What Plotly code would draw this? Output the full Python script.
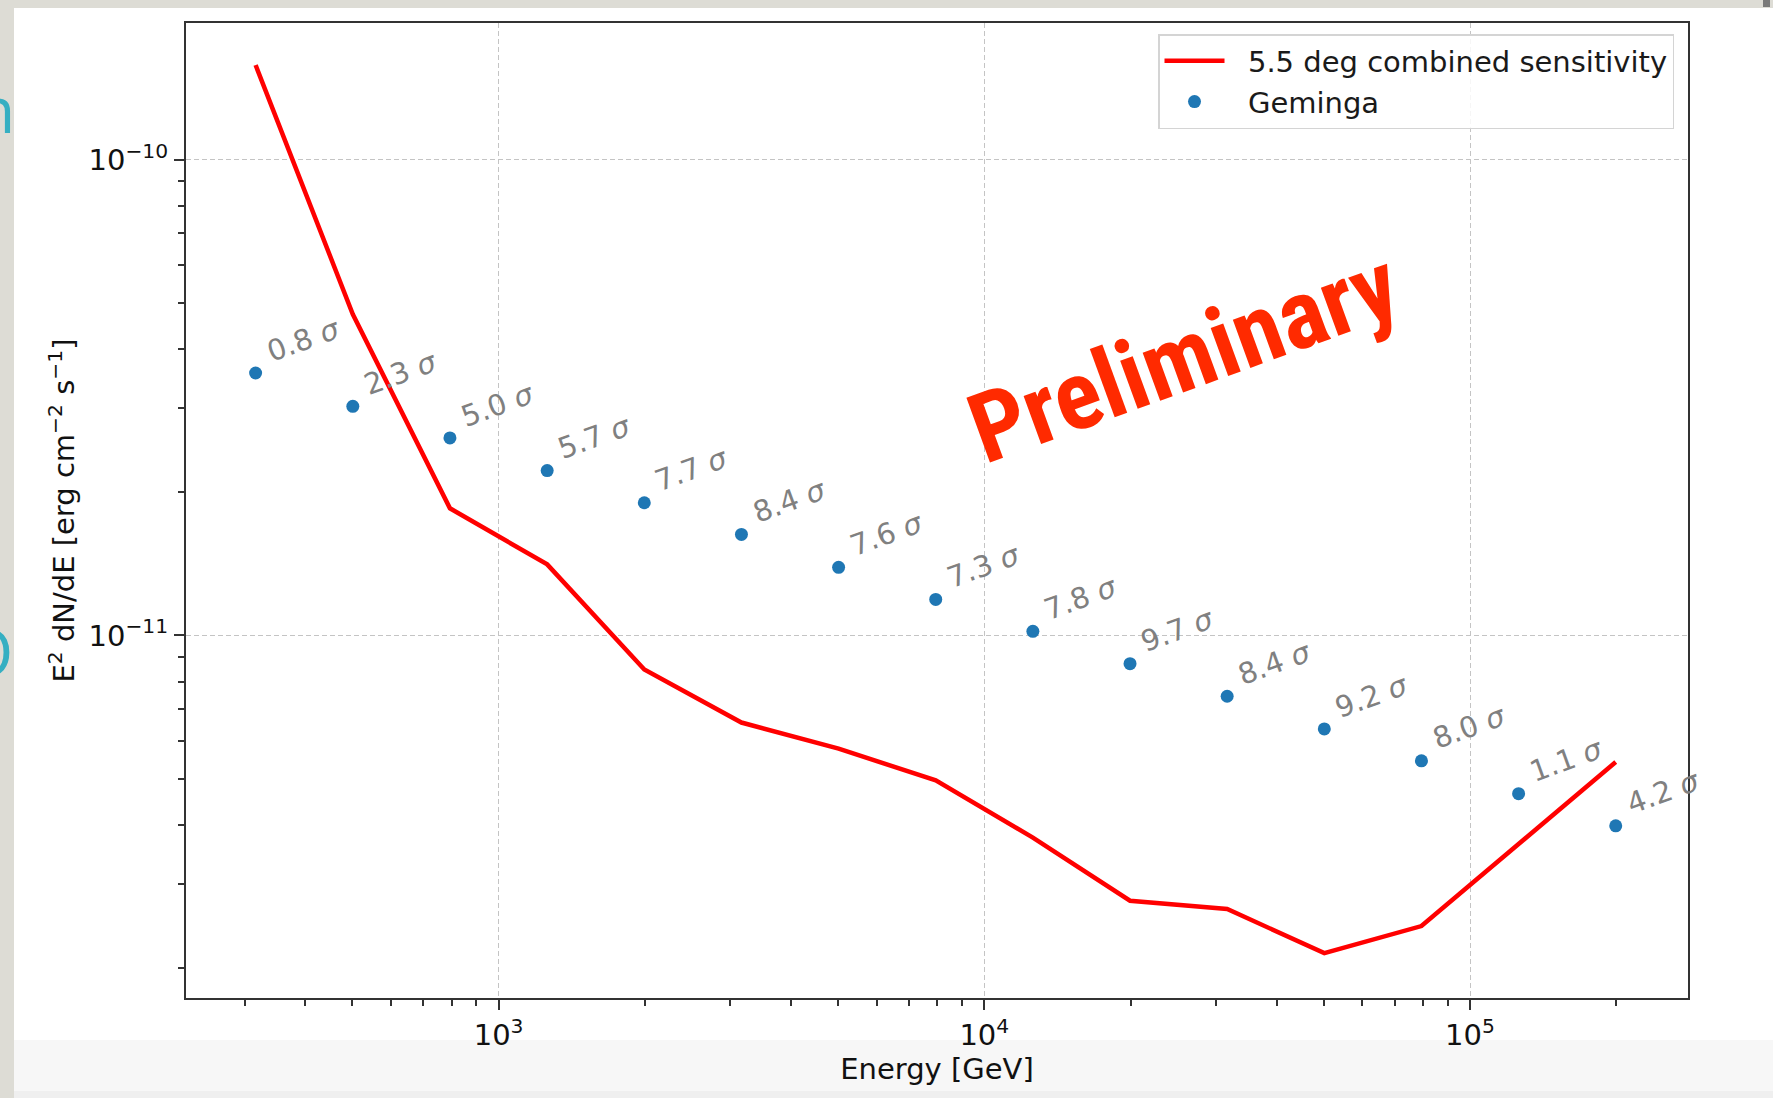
import numpy as np
import plotly.graph_objects as go

# ---- data -------------------------------------------------------------
# energy bin centres [GeV]
energy = [316, 501, 794, 1259, 1995, 3162, 5012, 7943,
          12589, 19953, 31623, 50119, 79433, 125893, 199526]

# 5.5 deg combined sensitivity, E^2 dN/dE [erg cm^-2 s^-1]
sensitivity = [1.58e-10, 4.73e-11, 1.85e-11, 1.41e-11, 8.48e-12,
               6.56e-12, 5.78e-12, 4.96e-12, 3.76e-12, 2.77e-12,
               2.66e-12, 2.15e-12, 2.45e-12, 3.64e-12, 5.42e-12]

# Geminga flux points, E^2 dN/dE [erg cm^-2 s^-1]
geminga_flux = [3.56e-11, 3.03e-11, 2.60e-11, 2.22e-11, 1.90e-11,
                1.63e-11, 1.39e-11, 1.19e-11, 1.02e-11, 8.72e-12,
                7.45e-12, 6.36e-12, 5.45e-12, 4.65e-12, 3.98e-12]

# detection significance per bin
significance = ["0.8", "2.3", "5.0", "5.7", "7.7", "8.4", "7.6", "7.3",
                "7.8", "9.7", "8.4", "9.2", "8.0", "1.1", "4.2"]

x_tick_vals = [1e3, 1e4, 1e5]
x_tick_text = ["10<sup>3</sup>", "10<sup>4</sup>", "10<sup>5</sup>"]
y_tick_vals = [1e-11, 1e-10]
y_tick_text = ["10<sup>\u221211</sup>", "10<sup>\u221210</sup>"]

# ---- page geometry ----------------------------------------------------
W, H = 1773, 1098
ML, MR, MT, MB = 186, 85, 23, 100
PW, PH = W - ML - MR, H - MT - MB


def px(x):
    return (x - ML) / PW


def py(y):
    return (H - MB - y) / PH


FONT = "DejaVu Sans, Verdana, sans-serif"
AXIS_COLOR = "#333333"
GRID_COLOR = "#c4c4c4"
PAD = "\u00a0\u00a0"   # gap between legend symbol and label

fig = go.Figure()

fig.add_trace(go.Scatter(
    x=energy, y=sensitivity, mode="lines",
    name=PAD + "5.5 deg combined sensitivity",
    line=dict(color="#ff0000", width=4.5),
))

fig.add_trace(go.Scatter(
    x=energy, y=geminga_flux, mode="markers",
    name=PAD + "Geminga",
    marker=dict(color="#1f77b4", size=13, line=dict(width=0)),
))

# significance labels next to each flux point
annotations = []
for e, f, s in zip(energy, geminga_flux, significance):
    annotations.append(dict(
        x=np.log10(e), y=np.log10(f), xref="x", yref="y",
        text=f"{s} <i>\u03c3</i>", showarrow=False,
        textangle=-20, xanchor="left", yanchor="bottom",
        xshift=4, yshift=2,
        font=dict(family=FONT, size=29, color="#808080"),
    ))

# watermark
annotations.append(dict(
    x=px(1184), y=py(357), xref="paper", yref="paper",
    text="<b>Preliminary</b>", showarrow=False, textangle=-20,
    xanchor="center", yanchor="middle",
    font=dict(family="Roboto Condensed, Liberation Sans Narrow, Roboto, sans-serif",
              size=97, color="#ff2a00"),
))

# slide lettering peeking in at the left edge
annotations.append(dict(
    x=px(17), y=py(108), xref="paper", yref="paper", text="n",
    showarrow=False, xanchor="right", yanchor="middle",
    font=dict(family="Open Sans, sans-serif", size=64, color="#35afc2"),
))
annotations.append(dict(
    x=px(15), y=py(650), xref="paper", yref="paper", text="O",
    showarrow=False, xanchor="right", yanchor="middle",
    font=dict(family="Open Sans, sans-serif", size=66, color="#35afc2"),
))

# slide background strips around the white panel
shapes = []


def band(x0, y0, x1, y1, color):
    shapes.append(dict(
        type="rect", xref="paper", yref="paper",
        x0=px(x0), x1=px(x1), y0=py(y1), y1=py(y0),
        fillcolor=color, line=dict(width=0), layer="below",
    ))


band(0, 0, W, 8, "#dddcd5")
band(0, 0, 14, H, "#dddcd5")
band(14, 1040, W, 1091, "#f7f7f7")
band(14, 1091, W, H, "#efefef")
band(1763, 0, 1770, 7, "#7a7a7a")

minor_x = [m * 10 ** d for d in (2, 3, 4, 5) for m in range(2, 10)]
minor_y = [m * 10.0 ** d for d in (-12, -11, -10) for m in range(2, 10)]

fig.update_layout(
    width=W, height=H,
    margin=dict(l=ML, r=MR, t=MT, b=MB),
    paper_bgcolor="#ffffff", plot_bgcolor="#ffffff",
    font=dict(family=FONT, size=29, color="#111111"),
    showlegend=True,
    legend=dict(
        x=px(1674), y=py(34), xanchor="right", yanchor="top",
        bgcolor="rgba(255,255,255,0.85)", bordercolor="#d4d4d4",
        borderwidth=1.5, font=dict(family=FONT, size=29, color="#1a1a1a"),
        itemwidth=60, tracegroupgap=0,
    ),
    annotations=annotations,
    shapes=shapes,
)

fig.update_xaxes(
    type="log", range=[2.3564, 5.4488],
    tickmode="array", tickvals=x_tick_vals, ticktext=x_tick_text,
    ticks="outside", ticklen=10, tickwidth=2, tickcolor=AXIS_COLOR,
    showline=True, linewidth=2, linecolor=AXIS_COLOR, mirror=True,
    showgrid=True, gridcolor=GRID_COLOR, gridwidth=1.3, griddash="5px,3px",
    zeroline=False,
    minor=dict(tickvals=minor_x, ticks="outside", ticklen=6, tickwidth=1.6,
               tickcolor=AXIS_COLOR, showgrid=False),
    title=dict(text="Energy [GeV]", standoff=0,
               font=dict(family=FONT, size=29, color="#111111")),
    tickfont=dict(family=FONT, size=29, color="#111111"),
)

fig.update_yaxes(
    type="log", range=[-11.762, -9.713],
    tickmode="array", tickvals=y_tick_vals, ticktext=y_tick_text,
    ticks="outside", ticklen=10, tickwidth=2, tickcolor=AXIS_COLOR,
    showline=True, linewidth=2, linecolor=AXIS_COLOR, mirror=True,
    showgrid=True, gridcolor=GRID_COLOR, gridwidth=1.3, griddash="5px,3px",
    zeroline=False,
    minor=dict(tickvals=minor_y, ticks="outside", ticklen=6, tickwidth=1.6,
               tickcolor=AXIS_COLOR, showgrid=False),
    title=dict(text="E<sup>2</sup> dN/dE [erg cm<sup>\u22122</sup> s<sup>\u22121</sup>]",
               standoff=5, font=dict(family=FONT, size=29, color="#111111")),
    tickfont=dict(family=FONT, size=29, color="#111111"),
)

fig.write_html("out.html")
